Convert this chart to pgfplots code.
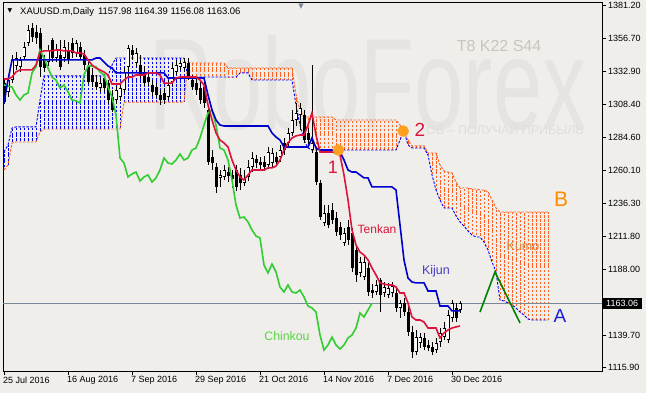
\documentclass[border=0pt]{standalone}
\usepackage{pgfplots}
\pgfplotsset{compat=1.18}
\usepackage{pgfplotstable}
\usepackage{fontspec}
\setmainfont{Liberation Sans}
\newfontfamily\djv{DejaVu Sans}
\definecolor{bgcol}{RGB}{239,238,234}
\definecolor{wm}{RGB}{229,228,225}
\definecolor{wmtxt}{RGB}{203,196,188}
\definecolor{tenkan}{RGB}{220,20,60}
\definecolor{kijun}{RGB}{0,0,205}
\definecolor{chinkou}{RGB}{50,205,50}
\definecolor{sa}{RGB}{0,0,255}
\definecolor{sb}{RGB}{255,96,32}
\definecolor{circ}{RGB}{255,160,32}
\definecolor{pline}{RGB}{120,136,152}
\definecolor{kijunlbl}{RGB}{70,60,200}
\definecolor{chinlbl}{RGB}{90,210,70}
\definecolor{kumolbl}{RGB}{220,130,60}
\definecolor{blbl}{RGB}{255,140,0}
\definecolor{albl}{RGB}{30,30,220}
\definecolor{lam}{RGB}{0,130,0}

\pgfplotstableread{
i o h l c
0 1324.1 1326.3 1308.8 1310.2
1 1317.6 1330.0 1313.9 1326.3
2 1326.3 1344.6 1324.1 1341.0
3 1336.6 1346.8 1333.7 1342.4
4 1335.9 1343.2 1332.2 1341.0
5 1343.2 1354.1 1341.0 1350.5
6 1353.4 1366.6 1351.2 1362.9
7 1364.4 1368.0 1354.1 1357.8
8 1361.5 1366.6 1352.7 1357.1
9 1360.7 1364.4 1328.5 1335.9
10 1341.0 1344.6 1332.2 1335.1
11 1339.5 1351.9 1336.6 1348.3
12 1355.6 1357.1 1339.5 1342.4
13 1342.4 1352.7 1339.5 1348.3
14 1344.6 1355.6 1333.7 1335.9
15 1342.4 1355.6 1339.5 1350.5
16 1348.3 1354.1 1338.0 1341.0
17 1353.4 1357.1 1342.4 1346.1
18 1346.1 1355.6 1343.2 1353.4
19 1350.5 1354.1 1341.0 1343.2
20 1344.6 1348.3 1333.7 1337.3
21 1335.9 1339.5 1323.4 1324.9
22 1330.0 1335.1 1321.2 1324.9
23 1324.9 1330.0 1319.0 1321.2
24 1320.5 1327.8 1317.6 1324.1
25 1327.8 1330.7 1317.6 1320.5
26 1324.1 1326.3 1308.8 1311.7
27 1313.9 1319.0 1303.0 1304.4
28 1311.7 1322.0 1308.8 1319.0
29 1313.9 1323.4 1311.0 1320.5
30 1319.0 1335.1 1316.8 1332.2
31 1335.9 1351.9 1328.5 1349.8
32 1348.3 1351.9 1341.0 1344.6
33 1338.8 1349.8 1335.9 1346.1
34 1337.3 1344.6 1327.8 1330.0
35 1332.2 1336.6 1322.0 1324.1
36 1328.5 1332.2 1322.0 1324.9
37 1322.7 1326.3 1314.6 1317.6
38 1321.2 1324.1 1313.2 1315.4
39 1315.4 1319.0 1308.1 1311.7
40 1316.8 1320.5 1308.8 1311.7
41 1313.9 1326.3 1311.7 1322.7
42 1324.9 1338.8 1322.0 1335.1
43 1332.2 1341.0 1330.0 1337.3
44 1335.9 1341.0 1333.7 1338.8
45 1335.1 1342.4 1332.2 1339.5
46 1338.8 1342.4 1326.3 1328.5
47 1326.3 1330.0 1319.0 1321.2
48 1324.1 1327.8 1315.4 1319.0
49 1320.5 1324.9 1308.8 1311.7
50 1321.2 1326.3 1305.9 1309.5
51 1304.4 1308.1 1264.2 1266.4
52 1270.0 1275.1 1260.5 1265.6
53 1262.7 1265.6 1243.7 1248.1
54 1254.7 1260.5 1248.1 1256.9
55 1255.4 1264.2 1253.2 1260.5
56 1259.0 1262.7 1251.7 1256.1
57 1256.9 1260.5 1247.3 1253.9
58 1260.5 1264.2 1245.1 1248.1
59 1256.9 1262.0 1245.9 1251.0
60 1251.0 1260.5 1248.8 1253.9
61 1255.4 1267.8 1252.5 1262.7
62 1262.7 1273.7 1259.0 1269.3
63 1268.5 1271.5 1262.0 1265.6
64 1266.4 1270.0 1260.5 1264.2
65 1266.4 1270.7 1259.8 1262.7
66 1264.2 1277.3 1261.2 1273.7
67 1265.6 1276.6 1262.7 1272.9
68 1270.0 1273.7 1263.4 1266.4
69 1270.0 1278.8 1266.4 1275.1
70 1280.3 1283.9 1271.5 1275.1
71 1280.3 1291.2 1277.3 1287.6
72 1287.6 1304.4 1285.4 1297.1
73 1297.1 1309.5 1292.7 1302.2
74 1300.7 1309.5 1289.8 1305.9
75 1300.7 1304.4 1280.3 1282.4
76 1287.6 1291.2 1278.1 1282.4
77 1275.1 1337.3 1272.9 1280.3
78 1273.7 1277.3 1249.5 1251.7
79 1251.0 1253.2 1223.9 1226.1
80 1221.7 1234.9 1219.5 1229.1
81 1229.1 1234.9 1218.1 1220.3
82 1231.3 1236.4 1221.0 1223.9
83 1225.4 1229.8 1212.2 1215.2
84 1218.8 1222.5 1209.3 1213.0
85 1207.1 1218.1 1204.9 1214.4
86 1218.8 1223.9 1205.6 1209.3
87 1214.4 1218.1 1185.9 1188.8
88 1202.0 1205.6 1178.6 1183.7
89 1185.2 1196.9 1182.2 1193.2
90 1182.2 1197.6 1180.0 1193.2
91 1188.8 1192.5 1168.3 1171.3
92 1172.7 1177.1 1166.9 1170.5
93 1171.3 1180.0 1169.1 1176.4
94 1180.0 1181.5 1156.6 1169.1
95 1170.5 1178.6 1167.6 1174.9
96 1169.1 1177.9 1166.9 1174.2
97 1170.5 1178.6 1167.6 1175.7
98 1170.5 1174.9 1156.6 1159.6
99 1159.6 1165.4 1152.2 1163.2
100 1163.2 1166.9 1153.7 1156.6
101 1156.6 1161.0 1139.1 1142.0
102 1142.0 1146.4 1123.0 1127.4
103 1127.4 1143.5 1125.2 1138.3
104 1134.0 1141.3 1130.3 1138.3
105 1137.6 1141.3 1128.8 1131.0
106 1132.5 1136.1 1128.1 1130.3
107 1131.0 1134.7 1125.2 1127.4
108 1128.8 1137.6 1126.6 1134.0
109 1134.7 1144.9 1131.0 1141.3
110 1138.3 1149.3 1136.1 1144.9
111 1136.1 1158.1 1133.9 1154.4
112 1152.2 1165.4 1149.3 1163.2
113 1159.6 1163.2 1149.3 1152.2
114 1157.98 1164.39 1156.08 1163.06
}\candles

\pgfplotstableread{
i t k
0 1327.1 1309.5
1 1327.1 1326.3
2 1328.5 1341.0
3 1332.2 1341.0
4 1333.7 1341.0
5 1333.7 1341.0
6 1333.7 1341.0
7 1333.7 1341.0
8 1337.3 1341.0
9 1346.8 1341.0
10 1347.6 1341.0
11 1347.6 1341.0
12 1347.6 1341.0
13 1348.3 1341.0
14 1348.3 1341.0
15 1347.6 1341.0
16 1347.6 1341.0
17 1347.6 1341.0
18 1346.1 1341.0
19 1346.1 1341.0
20 1345.4 1341.0
21 1341.0 1341.0
22 1337.3 1341.0
23 1335.1 1342.4
24 1333.7 1342.4
25 1332.2 1339.5
26 1330.0 1336.6
27 1323.4 1335.1
28 1323.4 1331.5
29 1323.4 1331.5
30 1326.3 1331.5
31 1328.5 1331.5
32 1328.5 1331.5
33 1330.0 1331.5
34 1330.0 1331.5
35 1330.0 1331.5
36 1331.5 1331.5
37 1331.5 1331.5
38 1331.5 1331.5
39 1330.0 1331.5
40 1324.1 1331.5
41 1324.1 1327.8
42 1324.1 1327.8
43 1327.8 1327.8
44 1328.5 1327.8
45 1328.5 1327.8
46 1328.5 1327.8
47 1328.5 1327.8
48 1328.5 1327.8
49 1326.3 1327.8
50 1322.7 1327.8
51 1308.1 1315.4
52 1297.1 1304.4
53 1287.6 1297.1
54 1282.4 1293.4
55 1280.3 1292.7
56 1277.3 1292.7
57 1267.8 1292.7
58 1260.5 1292.7
59 1255.4 1292.7
60 1253.2 1292.7
61 1256.9 1292.7
62 1260.5 1292.7
63 1260.5 1292.7
64 1260.5 1292.7
65 1260.5 1292.7
66 1262.0 1292.7
67 1262.0 1287.6
68 1263.4 1284.6
69 1267.8 1282.4
70 1275.1 1277.3
71 1280.3 1277.3
72 1283.9 1277.3
73 1285.4 1277.3
74 1286.1 1277.3
75 1286.1 1277.3
76 1293.4 1277.3
77 1302.2 1283.9
78 1286.1 1276.6
79 1273.7 1275.1
80 1273.7 1275.1
81 1273.7 1275.1
82 1273.7 1275.1
83 1272.9 1273.7
84 1271.5 1273.7
85 1256.9 1267.8
86 1238.6 1260.5
87 1216.6 1259.0
88 1205.6 1259.0
89 1200.5 1256.9
90 1198.3 1254.7
91 1194.7 1254.7
92 1188.8 1248.1
93 1183.7 1248.1
94 1177.9 1248.1
95 1177.1 1248.1
96 1176.4 1248.1
97 1176.4 1248.1
98 1174.9 1245.9
99 1170.5 1220.3
100 1170.5 1194.7
101 1163.2 1181.5
102 1153.0 1178.6
103 1150.8 1177.9
104 1150.8 1177.9
105 1149.3 1177.9
106 1144.9 1172.0
107 1144.9 1172.0
108 1144.9 1172.0
109 1137.6 1161.0
110 1141.3 1161.0
111 1143.5 1161.0
112 1144.9 1157.4
113 1145.7 1157.4
114 1146.4 1157.4
}\lines

\pgfplotstableread{
i ch
0 1322.7
1 1322.0
2 1321.2
3 1315.4
4 1311.7
5 1315.4
6 1316.8
7 1331.5
8 1335.9
9 1348.3
10 1342.4
11 1335.1
12 1328.5
13 1326.3
14 1320.5
15 1322.7
16 1317.6
17 1311.7
18 1311.0
19 1309.5
20 1330.0
21 1336.6
22 1336.6
23 1335.9
24 1332.2
25 1330.0
26 1321.2
27 1313.9
28 1300.7
29 1269.3
30 1265.6
31 1255.4
32 1257.6
33 1259.0
34 1252.5
35 1255.4
36 1256.9
37 1251.7
38 1254.7
39 1260.5
40 1269.3
41 1265.6
42 1264.9
43 1267.8
44 1272.2
45 1267.8
46 1269.3
47 1275.1
48 1276.6
49 1283.9
50 1293.4
51 1302.2
52 1304.4
53 1293.4
54 1276.6
55 1275.1
56 1267.8
57 1253.2
58 1234.9
59 1225.4
60 1226.1
61 1222.5
62 1216.6
63 1212.2
64 1210.8
65 1191.0
66 1185.2
67 1191.7
68 1185.9
69 1174.9
70 1171.3
71 1176.4
72 1171.3
73 1170.5
74 1172.7
75 1167.6
76 1161.0
77 1159.6
78 1156.6
79 1139.8
80 1128.8
81 1132.5
82 1138.3
83 1132.5
84 1129.6
85 1132.5
86 1137.6
87 1139.8
88 1144.9
89 1155.9
90 1153.0
91 1158.1
92 1163.06
}\chinkoutab

\pgfplotstableread{
i a b
0 1273.7 1260.5
1 1278.8 1264.2
2 1291.2 1280.3
3 1292.0 1281.0
4 1292.0 1281.0
5 1292.0 1281.0
6 1292.0 1281.0
7 1292.0 1281.0
8 1292.0 1281.0
9 1311.7 1288.3
10 1329.3 1290.5
11 1329.3 1290.5
12 1329.3 1290.5
13 1329.3 1290.5
14 1329.3 1290.5
15 1329.3 1290.5
16 1329.3 1290.5
17 1329.3 1290.5
18 1329.3 1290.5
19 1329.3 1290.5
20 1329.3 1290.5
21 1329.3 1290.5
22 1329.3 1290.5
23 1329.3 1290.5
24 1329.3 1290.5
25 1329.3 1290.5
26 1329.3 1290.5
27 1337.3 1290.5
28 1342.4 1290.5
29 1342.4 1290.5
30 1342.4 1310.2
31 1342.4 1310.2
32 1342.4 1310.2
33 1342.4 1310.2
34 1342.4 1310.2
35 1342.4 1310.2
36 1342.4 1310.2
37 1342.4 1310.2
38 1342.4 1310.2
39 1342.4 1310.2
40 1342.4 1310.2
41 1342.4 1310.2
42 1342.4 1310.2
43 1342.4 1310.2
44 1342.4 1310.2
45 1342.4 1310.2
46 1328.5 1339.5
47 1328.5 1338.8
48 1328.5 1338.8
49 1328.5 1338.8
50 1328.5 1338.8
51 1328.5 1338.8
52 1328.5 1338.8
53 1328.5 1338.8
54 1328.5 1338.8
55 1328.5 1338.8
56 1328.5 1335.1
57 1328.5 1335.1
58 1328.5 1335.1
59 1331.5 1335.1
60 1331.5 1335.1
61 1331.5 1335.1
62 1326.3 1335.1
63 1326.3 1335.1
64 1326.3 1335.1
65 1326.3 1335.1
66 1326.3 1335.1
67 1326.3 1335.1
68 1326.3 1335.1
69 1326.3 1335.1
70 1326.3 1335.1
71 1326.3 1335.1
72 1326.3 1335.1
73 1308.1 1315.4
74 1293.4 1304.4
75 1282.4 1299.3
76 1276.6 1299.3
77 1275.1 1299.3
78 1275.1 1299.3
79 1275.1 1299.3
80 1275.1 1299.3
81 1275.1 1299.3
82 1275.1 1299.3
83 1275.1 1297.1
84 1275.1 1297.1
85 1275.1 1297.1
86 1275.1 1297.1
87 1275.1 1297.1
88 1275.1 1297.1
89 1275.1 1297.1
90 1275.1 1297.1
91 1275.1 1297.1
92 1275.1 1297.1
93 1275.1 1297.1
94 1275.1 1297.1
95 1275.1 1297.1
96 1275.1 1297.1
97 1275.1 1297.1
98 1275.1 1297.1
99 1282.4 1293.4
100 1289.0 1288.3
101 1278.8 1282.4
102 1276.6 1278.1
103 1276.6 1278.1
104 1276.6 1278.1
105 1276.6 1278.1
106 1271.5 1272.9
107 1256.9 1272.9
108 1245.9 1272.9
109 1238.6 1264.2
110 1232.7 1259.8
111 1232.7 1259.0
112 1232.7 1258.3
113 1226.9 1251.7
114 1222.5 1247.3
115 1219.5 1247.3
116 1215.9 1247.3
117 1213.0 1246.6
118 1211.5 1246.6
119 1211.5 1245.9
120 1207.8 1245.9
121 1202.0 1244.4
122 1193.2 1238.6
123 1185.9 1232.7
124 1165.4 1229.8
125 1164.7 1229.8
126 1163.2 1229.8
127 1161.8 1229.8
128 1159.6 1229.8
129 1156.6 1229.8
130 1154.4 1229.8
131 1151.5 1229.8
132 1150.8 1229.8
133 1150.8 1229.8
134 1150.8 1229.8
135 1150.8 1229.8
136 1150.8 1229.8
}\cloud

\begin{document}
\begin{tikzpicture}
\useasboundingbox (-3pt,-22pt) rectangle (643pt,371pt);
\fill[bgcol] (-3pt,-22pt) rectangle (643pt,371pt);
\begin{axis}[
  at={(0pt,0pt)}, anchor=south west,
  scale only axis, width=599pt, height=368.3pt,
  xmin=-0.25, xmax=149.5, ymin=1113.47, ymax=1382.88,
  clip=false,
  axis line style={black, line width=0.9pt},
  xtick={0,16,32,48,64,80,96,112},
  xticklabels={25 Jul 2016,16 Aug 2016,7 Sep 2016,29 Sep 2016,21 Oct 2016,14 Nov 2016,7 Dec 2016,30 Dec 2016},
  ytick={1115.9,1139.7,1188.0,1211.8,1236.3,1260.1,1284.6,1308.4,1332.9,1356.7,1381.2},
  yticklabels={1115.90,1139.70,1188.00,1211.80,1236.30,1260.10,1284.60,1308.40,1332.90,1356.70,1381.20},
  xtick pos=left, ytick pos=right, yticklabel pos=right,
  tick align=outside, major tick length=4pt,
  tick style={black, line width=0.8pt},
  ticklabel style={font=\fontsize{9}{10}\selectfont},
  xticklabel style={anchor=north west, inner sep=0pt, xshift=-1pt, yshift=-1.5pt},
  yticklabel style={anchor=west, inner sep=0pt, xshift=2pt},
]
% watermarks
\node[anchor=base, text=wm, inner sep=0pt, font=\fontsize{130}{130}\selectfont] at (axis cs:91,1289.8) {\scalebox{0.68}[1]{RoboForex}};
\node[text=wmtxt, inner sep=0pt, font=\fontsize{16}{16}\selectfont] at (axis cs:123.75,1351.2) {T8 K22 S44};
\node[text={rgb,255:red,224;green,222;blue,218}, inner sep=0pt, font=\fontsize{12.5}{13}\selectfont] at (axis cs:125.25,1290.2) {ОВ – ПОЛУЧАЙ ПРИБЫЛЬ};

% kumo hatching
\addplot[draw=none, error bars/.cd, y dir=both, y explicit, error mark=none,
  error bar style={draw=sa, line width=0.8pt, dash pattern=on 2.5pt off 1.5pt}]
  table[x=i, y expr={(\thisrow{a}+\thisrow{b})/2}, y error expr={\thisrow{a}>\thisrow{b} ? (\thisrow{a}-\thisrow{b})/2 : 0}] {\cloud};
\addplot[draw=none, error bars/.cd, y dir=both, y explicit, error mark=none,
  error bar style={draw=sb, line width=0.8pt, dash pattern=on 2.5pt off 1.5pt}]
  table[x=i, y expr={(\thisrow{a}+\thisrow{b})/2}, y error expr={\thisrow{b}>\thisrow{a} ? (\thisrow{b}-\thisrow{a})/2 : 0}] {\cloud};
\addplot[sa, line width=0.9pt, dash pattern=on 2.5pt off 1.5pt] table[x=i, y=a] {\cloud};
\addplot[sb, line width=0.9pt, dash pattern=on 2.5pt off 1.5pt] table[x=i, y=b] {\cloud};

% current price line
\addplot[pline, line width=0.7pt] coordinates {(-0.25,1163.06) (149.5,1163.06)};

% candles: wicks, bodies, hollow interiors of rising candles
\addplot[draw=none, error bars/.cd, y dir=both, y explicit, error mark=none,
  error bar style={draw=black, line width=0.8pt, solid}]
  table[x=i, y expr={(\thisrow{h}+\thisrow{l})/2}, y error expr={(\thisrow{h}-\thisrow{l})/2}] {\candles};
\addplot[draw=none, error bars/.cd, y dir=both, y explicit, error mark=none,
  error bar style={draw=black, line width=3pt, solid}]
  table[x=i, y expr={(\thisrow{o}+\thisrow{c})/2}, y error expr={max(abs(\thisrow{c}-\thisrow{o})/2,0.4)}] {\candles};
\addplot[draw=none, error bars/.cd, y dir=both, y explicit, error mark=none,
  error bar style={draw=white, line width=1.2pt, solid}]
  table[x=i, y expr={(\thisrow{o}+\thisrow{c})/2}, y error expr={\thisrow{c}>\thisrow{o} ? max((\thisrow{c}-\thisrow{o})/2-0.73,0) : 0}] {\candles};

% ichimoku lines
\addplot[chinkou, line width=1.6pt] table[x=i, y=ch] {\chinkoutab};
\addplot[kijun, line width=1.6pt] table[x=i, y=k] {\lines};
\addplot[tenkan, line width=1.6pt] table[x=i, y=t] {\lines};

% markers and annotation
\addplot[only marks, mark=*, mark size=5.5pt, mark options={draw=circ, fill=circ}] coordinates {(83.6,1275.1) (99.8,1289.0)};
\addplot[lam, line width=1.6pt] coordinates {(119,1156.6) (122.75,1185.9) (129,1148.6)};

% labels
\node[text=tenkan, inner sep=0pt, font=\fontsize{18}{18}\selectfont] at (axis cs:82.25,1262.7) {1};
\node[text=tenkan, inner sep=0pt, font=\fontsize{19}{19}\selectfont] at (axis cs:104,1289.8) {2};
\node[text=tenkan, inner sep=0pt, font=\fontsize{12}{12}\selectfont] at (axis cs:93.25,1217.3) {Tenkan};
\node[text=kijunlbl, inner sep=0pt, font=\fontsize{12.5}{12.5}\selectfont] at (axis cs:108,1186.6) {Kijun};
\node[text=chinlbl, inner sep=0pt, font=\fontsize{12.3}{12.3}\selectfont] at (axis cs:70.75,1139.1) {Chinkou};
\node[text=kumolbl, inner sep=0pt, font=\fontsize{12.5}{12.5}\selectfont] at (axis cs:129.75,1204.9) {Kumo};
\node[text=blbl, inner sep=0pt, font=\fontsize{21}{21}\selectfont] at (axis cs:139.25,1239.3) {B};
\node[text=albl, inner sep=0pt, font=\fontsize{19}{19}\selectfont] at (axis cs:139,1153.5) {A};

% title
\node[inner sep=0pt, font=\djv\fontsize{6}{6}\selectfont] at (axis cs:1.5,1377.2) {▼};
\node[anchor=base west, inner sep=0pt, font=\fontsize{9.5}{10}\selectfont] at (axis cs:4,1373.9) {XAUUSD.m,Daily\hspace{4pt}1157.98 1164.39 1156.08 1163.06};
\node[inner sep=0pt, text=pline, font=\djv\fontsize{7}{7}\selectfont] at (axis cs:74.25,1380.3) {▼};

% current price box
\node[fill=black, text=white, anchor=west, inner xsep=4pt, inner ysep=2.5pt, font=\fontsize{9}{10}\selectfont] at (axis cs:149.5,1163.06) {1163.06};
\end{axis}
\end{tikzpicture}
\end{document}
